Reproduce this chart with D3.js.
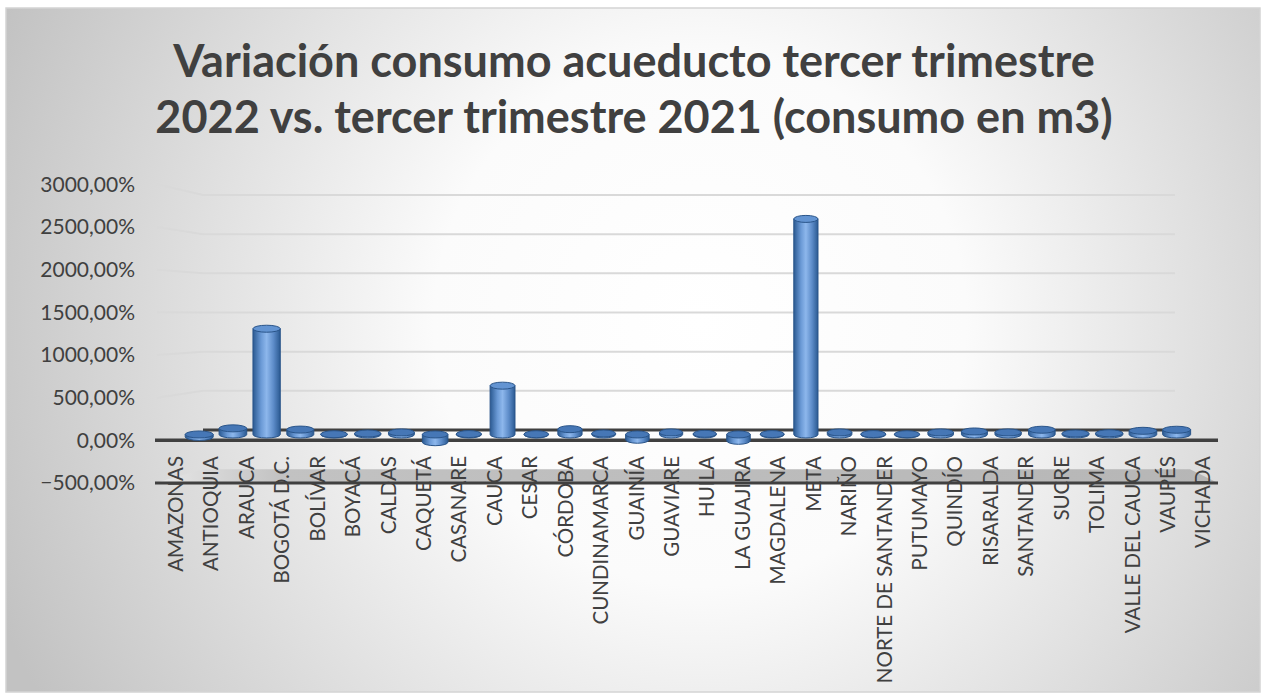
<!DOCTYPE html>
<html>
<head>
<meta charset="utf-8">
<script src="https://cdn.jsdelivr.net/npm/d3@7"></script>
<style>
  body { margin: 0; background: #ffffff; }
  svg { display: block; }
</style>
</head>
<body>
<svg id="chart"></svg>
<script>
// data
const titleLines = ["Variación consumo acueducto tercer trimestre",
                    "2022 vs. tercer trimestre 2021 (consumo en m3)"];

const departamentos = ["AMAZONAS", "ANTIOQUIA", "ARAUCA", "BOGOTÁ D.C.", "BOLÍVAR", "BOYACÁ",
  "CALDAS", "CAQUETÁ", "CASANARE", "CAUCA", "CESAR", "CÓRDOBA", "CUNDINAMARCA", "GUAINÍA",
  "GUAVIARE", "HUILA", "LA GUAJIRA", "MAGDALENA", "META", "NARIÑO", "NORTE DE SANTANDER",
  "PUTUMAYO", "QUINDÍO", "RISARALDA", "SANTANDER", "SUCRE", "TOLIMA", "VALLE DEL CAUCA",
  "VAUPÉS", "VICHADA"];

const variacion = [-30, 75, 1300, 60, 3, 12, 25, -95, 5, 600, 3, 65, 12, -65,
  25, 8, -78, 5, 2650, 25, 5, 3, 25, 37, 25, 58, 12, 15, 45, 58];

const yTicks = [-500, 0, 500, 1000, 1500, 2000, 2500, 3000];

const W = 1262, H = 694;
const depth = 0.57; // where the columns stand between front and back of the floor

const svg = d3.select("#chart").attr("width", W).attr("height", H);
const defs = svg.append("defs");

const bg = defs.append("radialGradient")
  .attr("id", "bg")
  .attr("gradientUnits", "userSpaceOnUse")
  .attr("cx", 700).attr("cy", 320).attr("r", 760);
bg.append("stop").attr("offset", "0").attr("stop-color", "#ffffff");
bg.append("stop").attr("offset", "0.35").attr("stop-color", "#fbfbfb");
bg.append("stop").attr("offset", "1").attr("stop-color", "#c2c2c2");

const body = defs.append("linearGradient").attr("id", "body")
  .attr("x1", 0).attr("x2", 1).attr("y1", 0).attr("y2", 0);
body.append("stop").attr("offset", "0").attr("stop-color", "#2b5a92");
body.append("stop").attr("offset", "0.3").attr("stop-color", "#6b9ad6");
body.append("stop").attr("offset", "0.5").attr("stop-color", "#8db7ec");
body.append("stop").attr("offset", "0.75").attr("stop-color", "#5d8cc9");
body.append("stop").attr("offset", "1").attr("stop-color", "#2b5a92");

const floorGrad = defs.append("linearGradient").attr("id", "floor")
  .attr("x1", 0).attr("x2", 1).attr("y1", 0).attr("y2", 0);
floorGrad.append("stop").attr("offset", "0").attr("stop-color", "#e8e8e8");
floorGrad.append("stop").attr("offset", "0.12").attr("stop-color", "#c2c2c2");
floorGrad.append("stop").attr("offset", "1").attr("stop-color", "#b6b6b6");

svg.append("rect")
  .attr("x", 6).attr("y", 8).attr("width", W - 8).attr("height", H - 10)
  .attr("fill", "url(#bg)")
  .attr("stroke", "#d4d4d4").attr("stroke-width", 1.5);

// front and back planes of the 3D box
const xFront = d3.scaleBand().domain(departamentos).range([155, 1218]);
const xBack = d3.scaleBand().domain(departamentos).range([203, 1175]);
const yFront = d3.scaleLinear().domain([-500, 3000]).range([483, 184.4]);
const yBack = d3.scaleLinear().domain([-500, 3000]).range([469.2, 195]);

const yBar = d3.scaleLinear().domain([-500, 3000])
  .range([yFront(-500) * (1 - depth) + yBack(-500) * depth,
          yFront(3000) * (1 - depth) + yBack(3000) * depth]);
function xBar(d) {
  const f = xFront(d) + xFront.bandwidth() / 2;
  const b = xBack(d) + xBack.bandwidth() / 2;
  return f * (1 - depth) + b * depth;
}

const backLeft = xBack.range()[0], backRight = xBack.range()[1];
const frontLeft = xFront.range()[0], frontRight = xFront.range()[1];

// gridlines: short slanted part on the side wall, then along the back wall
const grid = svg.append("g");
yTicks.filter(v => v > 0).forEach(v => {
  grid.append("polyline")
    .attr("points", `${frontLeft + 2},${yFront(v)} ${backLeft},${yBack(v)} ${backRight},${yBack(v)}`)
    .attr("fill", "none")
    .attr("stroke", "#d9d9d9")
    .attr("stroke-width", 2);
});

// floor at -500
svg.append("polygon")
  .attr("points", `${backLeft},${yBack(-500)} ${backRight + 15},${yBack(-500)} ${frontRight},${yFront(-500)} ${frontLeft},${yFront(-500)}`)
  .attr("fill", "url(#floor)");
svg.append("line")
  .attr("x1", frontLeft).attr("x2", frontRight)
  .attr("y1", yFront(-500)).attr("y2", yFront(-500))
  .attr("stroke", "#404040").attr("stroke-width", 3);

// category axis plane at 0
svg.append("line")
  .attr("x1", backLeft).attr("x2", backRight + 15)
  .attr("y1", yBack(0)).attr("y2", yBack(0))
  .attr("stroke", "#404040").attr("stroke-width", 3);
svg.append("line")
  .attr("x1", frontLeft).attr("x2", frontRight)
  .attr("y1", yFront(0)).attr("y2", yFront(0))
  .attr("stroke", "#404040").attr("stroke-width", 3.5);

// y axis labels
const yAxis = svg.append("g")
  .attr("transform", "translate(145,0)")
  .call(d3.axisLeft(yFront).tickValues(yTicks).tickSize(0).tickPadding(10)
    .tickFormat(v => d3.format(".2f")(v).replace(".", ",") + "%"));
yAxis.select(".domain").remove();
yAxis.selectAll("text")
  .attr("font-family", "Lato, 'Open Sans', sans-serif")
  .attr("font-size", 21)
  .attr("fill", "#404040");

// category labels, rotated
svg.append("g").selectAll("text")
  .data(departamentos)
  .join("text")
  .attr("transform", d => `translate(${xFront(d) + xFront.bandwidth() / 2 + 3},456) rotate(-90)`)
  .attr("text-anchor", "end")
  .attr("dy", "0.35em")
  .attr("font-family", "Lato, 'Open Sans', sans-serif")
  .attr("font-size", 20.5)
  .attr("fill", "#404040")
  .text(d => d);

// cylinders
const ry = 3.5;
const cols = svg.append("g");
departamentos.forEach((d, i) => {
  const v = variacion[i];
  const cx = xBar(d);
  const w = 23 + 5 * Math.abs(i - 14.5) / 14.5;
  const y0 = yBar(0), y1 = yBar(v);
  const top = Math.min(y0, y1), bottom = Math.max(y0, y1);
  const g = cols.append("g");
  g.append("path")
    .attr("d", `M${cx - w / 2},${top} L${cx - w / 2},${bottom} A${w / 2},${ry} 0 0 0 ${cx + w / 2},${bottom} L${cx + w / 2},${top} Z`)
    .attr("fill", "url(#body)")
    .attr("stroke", "#2a558a")
    .attr("stroke-width", 1);
  g.append("ellipse")
    .attr("cx", cx).attr("cy", top)
    .attr("rx", w / 2).attr("ry", ry)
    .attr("fill", Math.abs(v) < 100 ? "#4677b6" : "#6394d2")
    .attr("stroke", "#2a558a")
    .attr("stroke-width", 1);
});

// title
const title = svg.append("text")
  .attr("x", 634)
  .attr("text-anchor", "middle")
  .attr("font-family", "Lato, 'Open Sans', sans-serif")
  .attr("font-weight", "bold")
  .attr("font-size", 40)
  .attr("fill", "#404040");
title.selectAll("tspan")
  .data(titleLines)
  .join("tspan")
  .attr("x", 634)
  .attr("y", (d, i) => 77 + i * 56)
  .text(d => d);
// scale the title so its first line spans about the same width as in the picture
const w1 = title.select("tspan").node().getComputedTextLength();
title.attr("font-size", 40 * 922 / w1);
</script>
</body>
</html>
